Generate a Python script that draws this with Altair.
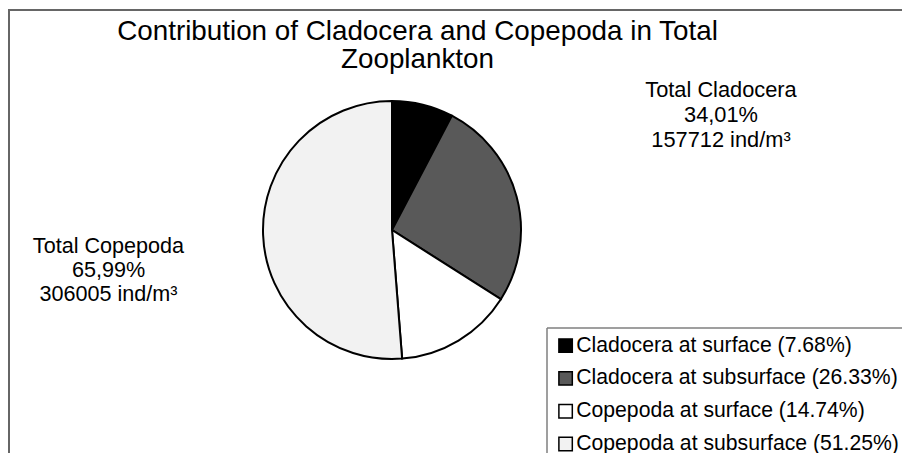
import altair as alt
import pandas as pd

# ---- data ----
categories = ["Cladocera at surface", "Cladocera at subsurface",
              "Copepoda at surface", "Copepoda at subsurface"]
percent = [7.68, 26.33, 14.74, 51.25]
order_idx = [1, 2, 3, 4]
title_lines = ["Contribution of Cladocera and Copepoda in Total", "Zooplankton"]
clad_note = ["Total Cladocera", "34,01%", "157712 ind/m³"]
cope_note = ["Total Copepoda", "65,99%", "306005 ind/m³"]

# ---- styles ----
fills = ["#000000", "#595959", "#ffffff", "#f2f2f2"]
FONT = "Liberation Sans"
W, H = 894, 445

labels = [f"{c} ({p:.2f}%)" for c, p in zip(categories, percent)]
df = pd.DataFrame({"label": labels, "pct": percent, "idx": order_idx})
one = pd.DataFrame({"k": [0]})

pie = alt.Chart(df).mark_arc(radius=129, stroke="black", strokeWidth=2).encode(
    theta=alt.Theta("pct:Q", stack=True),
    order=alt.Order("idx:Q"),
    color=alt.Color(
        "label:N", title=None,
        scale=alt.Scale(domain=labels, range=fills),
        legend=alt.Legend(
            orient="none", legendX=547, legendY=327, padding=0,
            symbolType="square", symbolSize=180,
            symbolStrokeColor="black", symbolStrokeWidth=1.5,
            labelFontSize=21.2, labelFont=FONT, labelColor="black",
            labelOffset=0, rowPadding=10.8, labelLimit=500,
        ),
    ),
    x=alt.value(384),
    y=alt.value(222),
)

frame_left = alt.Chart(one).mark_rule(color="#666666", strokeWidth=2).encode(
    x=alt.value(1), y=alt.value(2), y2=alt.value(H))
frame_top = alt.Chart(one).mark_rule(color="#666666", strokeWidth=2).encode(
    y=alt.value(2), x=alt.value(0), x2=alt.value(W))

leg_left = alt.Chart(one).mark_rule(color="#7f7f7f", strokeWidth=1.5).encode(
    x=alt.value(539), y=alt.value(320), y2=alt.value(H))
leg_top = alt.Chart(one).mark_rule(color="#7f7f7f", strokeWidth=1.5).encode(
    y=alt.value(320), x=alt.value(539), x2=alt.value(W))

title = alt.Chart(one).mark_text(
    text=title_lines, font=FONT, fontSize=27.8, lineHeight=28,
    align="center", baseline="alphabetic", color="black"
).encode(x=alt.value(409.5), y=alt.value(32))

clad = alt.Chart(one).mark_text(
    text=clad_note, font=FONT, fontSize=21.8, lineHeight=25,
    align="center", baseline="alphabetic", color="black"
).encode(x=alt.value(713), y=alt.value(88.5))

cope = alt.Chart(one).mark_text(
    text=cope_note, font=FONT, fontSize=21.6, lineHeight=24,
    align="center", baseline="alphabetic", color="black"
).encode(x=alt.value(100.5), y=alt.value(244.5))

chart = alt.layer(
    frame_left, frame_top, pie, leg_left, leg_top, title, clad, cope
).properties(
    width=W, height=H, padding=0, autosize=alt.AutoSizeParams(type="none"),
    background="white",
).configure_view(stroke=None)

chart.save("out.html", embed_options={"renderer": "svg", "actions": False})
